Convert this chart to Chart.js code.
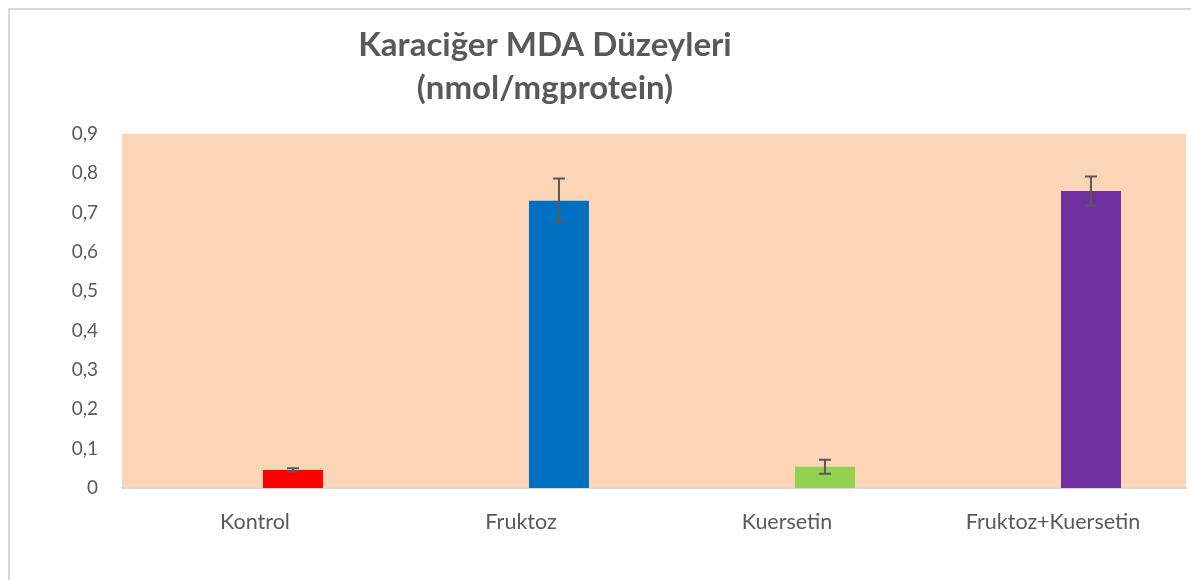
<!DOCTYPE html>
<html>
<head>
<meta charset="utf-8">
<script src="https://cdn.jsdelivr.net/npm/chart.js@4"></script>
<style>
  html, body { margin: 0; padding: 0; background: #fff; }
  #wrap { width: 1191px; height: 580px; }
</style>
</head>
<body>
<div id="wrap"><canvas id="mda-chart"></canvas></div>
<script>
// Karaciğer MDA düzeyleri (nmol/mgprotein)
const titleLines = ["Karaciğer MDA Düzeyleri", "(nmol/mgprotein)"];
const groups = ["Kontrol", "Fruktoz", "Kuersetin", "Fruktoz+Kuersetin"];
const mdaMeans = [0.046, 0.730, 0.054, 0.755];
const mdaErrors = [0.004, 0.057, 0.018, 0.037];
const barColors = ["#FF0000", "#0070C0", "#92D050", "#7030A0"];
const yTicks = [0, 0.1, 0.2, 0.3, 0.4, 0.5, 0.6, 0.7, 0.8, 0.9];

const textGrey = "#595959";

// background of the plot area + outer frame of the chart
const plotBackground = {
  id: "plotBackground",
  beforeDraw(chart) {
    const { ctx, chartArea } = chart;
    ctx.save();
    ctx.fillStyle = "#FBD5B5";
    ctx.fillRect(chartArea.left, chartArea.top, chartArea.right - chartArea.left, chartArea.bottom - chartArea.top);
    // frame (only top and left edges are visible in the crop)
    ctx.strokeStyle = "#D9D9D9";
    ctx.lineWidth = 2;
    ctx.beginPath();
    ctx.moveTo(9, chart.height);
    ctx.lineTo(9, 9);
    ctx.lineTo(chart.width, 9);
    ctx.stroke();
    ctx.restore();
  },
};

// two-line title, centred like the Excel one
const titleText = {
  id: "titleText",
  afterDraw(chart) {
    const { ctx } = chart;
    ctx.save();
    ctx.fillStyle = textGrey;
    ctx.font = "bold 33px Lato";
    ctx.textAlign = "center";
    ctx.textBaseline = "middle";
    titleLines.forEach((line, i) => ctx.fillText(line, 545, 45 + i * 43));
    ctx.restore();
  },
};

// error bars (+/- sd) on the visible series
const errorBars = {
  id: "errorBars",
  afterDatasetsDraw(chart) {
    const { ctx } = chart;
    const meta = chart.getDatasetMeta(1);
    const yScale = chart.scales.y;
    ctx.save();
    ctx.strokeStyle = textGrey;
    ctx.lineWidth = 2;
    meta.data.forEach((bar, i) => {
      const top = yScale.getPixelForValue(mdaMeans[i] + mdaErrors[i]);
      const bottom = yScale.getPixelForValue(mdaMeans[i] - mdaErrors[i]);
      const x = bar.x;
      ctx.beginPath();
      ctx.moveTo(x, top);
      ctx.lineTo(x, bottom);
      ctx.moveTo(x - 6, top);
      ctx.lineTo(x + 6, top);
      ctx.moveTo(x - 6, bottom);
      ctx.lineTo(x + 6, bottom);
      ctx.stroke();
    });
    ctx.restore();
  },
};

new Chart("mda-chart", {
  type: "bar",
  data: {
    labels: groups,
    datasets: [
      {
        // empty series, as in the workbook: pushes the bars right of the labels
        label: "",
        data: groups.map(() => null),
        backgroundColor: "rgba(0,0,0,0)",
      },
      {
        label: "MDA",
        data: mdaMeans,
        backgroundColor: barColors,
      },
    ],
  },
  options: {
    responsive: true,
    maintainAspectRatio: false,
    animation: false,
    categoryPercentage: 0.571,
    barPercentage: 0.79,
    layout: { padding: { top: 134, right: 5, left: 0, bottom: 0 } },
    plugins: {
      legend: { display: false },
      tooltip: { enabled: false },
      title: { display: false },
    },
    scales: {
      x: {
        grid: { display: false, drawTicks: false },
        border: { color: "#D9D9D9", width: 2 },
        ticks: {
          color: textGrey,
          font: { family: "Lato", size: 21.5 },
          padding: 21,
        },
        afterFit(axis) { axis.height = 92; },
      },
      y: {
        min: 0,
        max: 0.9,
        grid: { display: false, drawTicks: false },
        border: { display: false },
        afterBuildTicks(axis) { axis.ticks = yTicks.map((v) => ({ value: v })); },
        ticks: {
          color: textGrey,
          font: { family: "Lato", size: 19 },
          padding: 24,
          callback: (v) => (v === 0 ? "0" : v.toFixed(1).replace(".", ",")),
        },
        afterFit(axis) { axis.width = 122; },
      },
    },
  },
  plugins: [plotBackground, errorBars, titleText],
});
</script>
</body>
</html>
